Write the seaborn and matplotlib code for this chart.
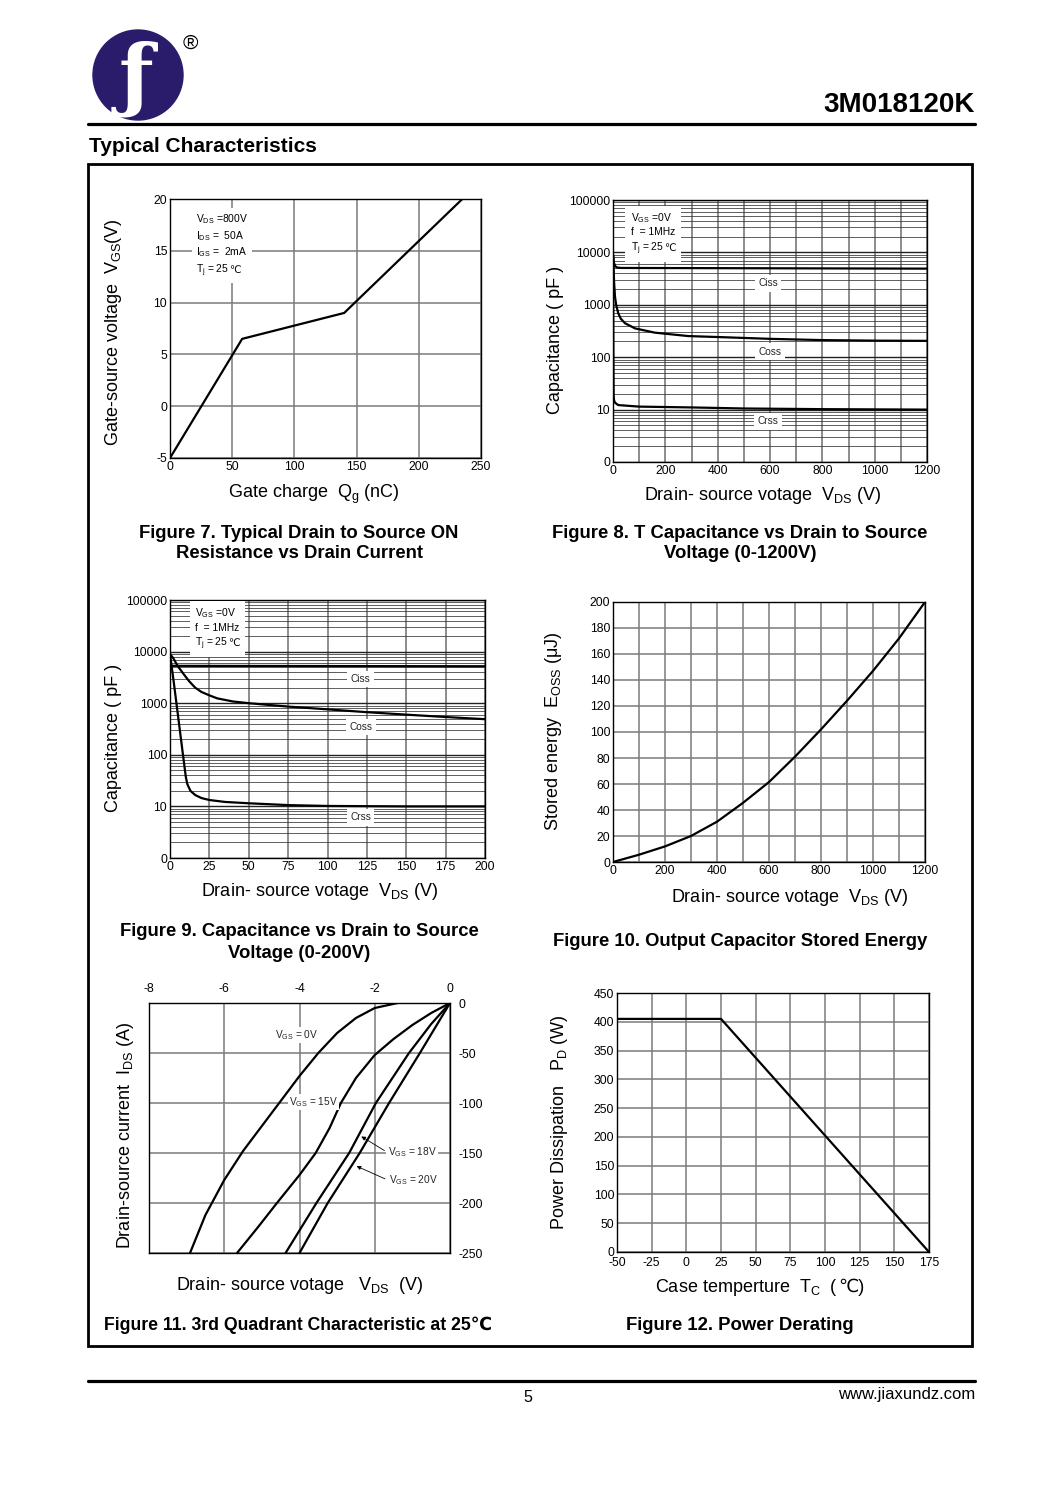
import numpy as np
import pandas as pd
import matplotlib
matplotlib.use("Agg")
import matplotlib.pyplot as plt
import seaborn as sns
from matplotlib.patches import Circle, Rectangle
from matplotlib.ticker import LogLocator, NullFormatter, MultipleLocator, FixedLocator
from matplotlib.offsetbox import TextArea, HPacker, VPacker, AnnotationBbox

# ---------------- data ----------------
# Fig 7: gate charge
qg_nc = [0, 58, 140, 235]
vgs_v = [-5, 6.5, 9.0, 20]

# Fig 8: capacitance 0-1200 V
ciss8_v = [0, 3, 8, 15, 30, 1200]
ciss8_pf = [9000, 6500, 5500, 5150, 5050, 4900]
coss8_v = [0, 2, 4, 7.6, 12, 20, 30, 46, 84, 160, 288, 428, 600, 800, 1000, 1200]
coss8_pf = [9000, 6000, 2800, 1430, 1000, 690, 540, 445, 355, 294, 253, 240, 224, 212, 207, 205]
crss8_v = [0, 0.8, 1.6, 2.5, 4, 8, 20, 100, 300, 500, 800, 1200]
crss8_pf = [9000, 1200, 80, 18, 15, 13.5, 12.2, 11.4, 11, 10.5, 10.2, 10]

# Fig 9: capacitance 0-200 V
ciss9_v = [0, 200]
ciss9_pf = [5300, 5200]
coss9_v = [0, 2, 5, 8, 12, 16, 20, 25, 30, 40, 50, 75, 100, 125, 150, 175, 200]
coss9_pf = [9000, 7500, 5200, 3900, 2700, 2000, 1650, 1420, 1240, 1080, 1000, 860, 760, 670, 600, 540, 490]
crss9_v = [0, 2.5, 5, 7.5, 10, 11, 13, 16, 20, 25, 35, 50, 75, 100, 150, 200]
crss9_pf = [9000, 2400, 600, 150, 38, 27, 20, 16.6, 14.5, 13.3, 12.2, 11.5, 10.6, 10.2, 10, 10]

# Fig 10: stored energy
vds10_v = [0, 100, 200, 300, 400, 500, 600, 700, 800, 900, 1000, 1100, 1200]
eoss_uj = [0, 5.6, 12, 20, 31, 45.5, 61.5, 81, 102, 124, 147, 172, 200]

# Fig 11: 3rd quadrant
vgs0_v = [-1.39, -2.0, -2.5, -3.0, -3.5, -4.0, -4.5, -5.0, -5.5, -6.0, -6.5, -6.91]
vgs0_a = [0, -5, -15, -30, -50, -73, -98, -123, -148, -177, -212, -250]
vgs15_v = [0, -0.5, -1.0, -1.5, -2.0, -2.5, -2.9, -3.2, -3.57, -4.0, -4.6, -5.1, -5.66]
vgs15_a = [0, -10, -22, -36, -52, -75, -100, -125, -150, -172, -200, -224, -250]
vgs18_v = [0, -0.5, -1.09, -1.97, -2.68, -3.55, -4.37]
vgs18_a = [0, -21, -50, -100, -150, -200, -250]
vgs20_v = [0, -0.8, -1.62, -2.4, -3.25, -4.0]
vgs20_a = [0, -50, -100, -150, -200, -250]

# Fig 12: power derating
tc_c = [-50, 25, 175]
pd_w = [405, 405, 0]

cap_ticks = [1, 10, 100, 1000, 10000, 100000]
cap_labels = ["0", "10", "100", "1000", "10000", "100000"]

# ---------------- style ----------------
sns.set_theme(style="white")
plt.rcParams["font.family"] = ["Liberation Sans", "DejaVu Sans"]
plt.rcParams["mathtext.fontset"] = "custom"
plt.rcParams["mathtext.rm"] = "Liberation Sans"
plt.rcParams["mathtext.it"] = "Liberation Sans:italic"
plt.rcParams["mathtext.bf"] = "Liberation Sans:bold"
plt.rcParams["axes.unicode_minus"] = False

W, H = 1050, 1488
fig = plt.figure(figsize=(W / 100, H / 100), dpi=100)
fig.patch.set_facecolor("white")

bg = fig.add_axes([0, 0, 1, 1])
bg.set_xlim(0, W)
bg.set_ylim(H, 0)
bg.axis("off")
bg.set_zorder(-5)


def T(x, y, s, **kw):
    kw.setdefault("ha", "center")
    kw.setdefault("va", "center")
    kw.setdefault("color", "black")
    return bg.text(x, y, s, **kw)


def rich_lines(lines, size, sep=2.5):
    rows = []
    for parts in lines:
        rows.append(HPacker(children=[TextArea(p, textprops=dict(fontsize=size, color="black"))
                                      for p in parts], align="baseline", pad=0, sep=0))
    if len(rows) == 1:
        return rows[0]
    return VPacker(children=rows, align="left", pad=0, sep=sep)


def place(ax, box, xy, align, frame=False, pad=0.3):
    ab = AnnotationBbox(box, xy, xycoords="data", box_alignment=align, frameon=frame,
                        pad=pad, bboxprops=dict(fc="white", ec="none"), zorder=6)
    ax.add_artist(ab)
    return ab


def mkax(l, t, r, b):
    ax = fig.add_axes([l / W, 1 - b / H, (r - l) / W, (b - t) / H])
    for sp in ax.spines.values():
        sp.set_color("black")
        sp.set_linewidth(1.0)
    ax.tick_params(length=0, pad=2, labelsize=8.7, colors="black")
    return ax


def line(ax, x, y, lw=1.6):
    df = pd.DataFrame({"x": x, "y": y})
    sns.lineplot(data=df, x="x", y="y", ax=ax, color="black", lw=lw,
                 estimator=None, sort=False, zorder=4)
    ax.set_xlabel("")
    ax.set_ylabel("")


GRID = dict(color="#7a7a7a", lw=1.1)
CAP = 13.3

# ---------------- header / frame ----------------
bg.add_patch(Circle((138, 75), 45, color="#2b1b6b", zorder=1))
T(136, 80, "ƒ", fontsize=58, color="white", family="DejaVu Serif", weight="bold", zorder=2)
T(190, 43, "®", fontsize=15)
T(975, 105, "3M018120K", fontsize=20, weight="bold", ha="right")
bg.plot([88, 975], [124, 124], color="black", lw=2.3)
T(89, 146, "Typical Characteristics", fontsize=15, weight="bold", ha="left")
bg.add_patch(Rectangle((88, 164), 884, 1182, fill=False, ec="black", lw=2.0))
bg.plot([88, 975], [1381, 1381], color="black", lw=2.3)
T(528, 1398, "5", fontsize=11.5)
T(975, 1394, "www.jiaxundz.com", fontsize=12, ha="right")

# ---------------- Fig 7 ----------------
ax = mkax(170, 199, 481, 458)
ax.set_xlim(0, 250)
ax.set_ylim(-5, 20)
ax.set_xticks(range(0, 251, 50))
ax.set_yticks(range(-5, 21, 5))
ax.grid(True, **GRID)
line(ax, qg_nc, vgs_v)
box = rich_lines([["V$_\\mathrm{DS}$ =800V"], ["I$_\\mathrm{DS}$ =  50A"],
                  ["I$_\\mathrm{GS}$ =  2mA"], ["T$_\\mathrm{j}$ = 25", "℃"]], 7.4, sep=2.2)
place(ax, box, (21, 18.75), (0, 1), frame=True, pad=0.25)
T(314, 494, "Gate charge  Q$_\\mathrm{g}$ (nC)", fontsize=13)
T(113, 332, "Gate-source voltage  V$_\\mathrm{GS}$(V)", fontsize=13, rotation=90)
T(299, 533, "Figure 7. Typical Drain to Source ON", fontsize=CAP, weight="bold")
T(299, 554, "Resistance vs Drain Current", fontsize=CAP, weight="bold")


def capax(ax, xmax, xgrid, xlab):
    ax.set_yscale("log")
    ax.set_ylim(1, 100000)
    ax.set_xlim(0, xmax)
    ax.yaxis.set_major_locator(FixedLocator(cap_ticks))
    ax.set_yticklabels(cap_labels)
    ax.yaxis.set_minor_locator(LogLocator(base=10, subs=range(2, 10)))
    ax.yaxis.set_minor_formatter(NullFormatter())
    ax.tick_params(which="minor", length=0)
    ax.set_xticks(xlab)
    ax.xaxis.set_minor_locator(MultipleLocator(xgrid))
    ax.grid(True, which="major", axis="y", color="#222222", lw=1.0)
    ax.grid(True, which="minor", axis="y", color="#333333", lw=0.55)
    ax.grid(True, which="both", axis="x", color="#6e6e6e", lw=1.1)


def tag(ax, x, y, s):
    ax.text(x, y, s, fontsize=7.3, ha="center", va="center", zorder=5,
            bbox=dict(fc="white", ec="none", pad=2.5))


def capnote():
    return rich_lines([["V$_\\mathrm{GS}$ =0V"], ["f  = 1MHz"], ["T$_\\mathrm{j}$ = 25", "℃"]],
                      7.4, sep=2.0)


# ---------------- Fig 8 ----------------
ax = mkax(613, 200, 927, 462)
capax(ax, 1200, 100, range(0, 1201, 200))
line(ax, ciss8_v, ciss8_pf)
line(ax, coss8_v, coss8_pf)
line(ax, crss8_v, crss8_pf)
tag(ax, 592, 2600, "Ciss")
tag(ax, 600, 126, "Coss")
tag(ax, 592, 6, "Crss")
place(ax, capnote(), (68, 62000), (0, 1), frame=True, pad=0.35)
T(763, 496, "Drain- source votage  V$_\\mathrm{DS}$ (V)", fontsize=13)
T(555, 340, "Capacitance ( pF )", fontsize=13, rotation=90)
T(740, 533, "Figure 8. T Capacitance vs Drain to Source", fontsize=CAP, weight="bold")
T(740, 554, "Voltage (0-1200V)", fontsize=CAP, weight="bold")

# ---------------- Fig 9 ----------------
ax = mkax(170, 600, 485, 858)
capax(ax, 200, 25, range(0, 201, 25))
line(ax, ciss9_v, ciss9_pf)
line(ax, coss9_v, coss9_pf)
line(ax, crss9_v, crss9_pf)
tag(ax, 121, 2950, "Ciss")
tag(ax, 121, 345, "Coss")
tag(ax, 121, 6.2, "Crss")
place(ax, capnote(), (16, 76000), (0, 1), frame=True, pad=0.35)
T(320, 892, "Drain- source votage  V$_\\mathrm{DS}$ (V)", fontsize=13)
T(113, 738, "Capacitance ( pF )", fontsize=13, rotation=90)
T(299, 931, "Figure 9. Capacitance vs Drain to Source", fontsize=CAP, weight="bold")
T(299, 953, "Voltage (0-200V)", fontsize=CAP, weight="bold")

# ---------------- Fig 10 ----------------
ax = mkax(613, 602, 925, 862)
ax.set_xlim(0, 1200)
ax.set_ylim(0, 200)
ax.set_xticks(range(0, 1201, 200))
ax.xaxis.set_minor_locator(MultipleLocator(100))
ax.set_yticks(range(0, 201, 20))
ax.grid(True, which="both", **GRID)
line(ax, vds10_v, eoss_uj)
T(790, 897, "Drain- source votage  V$_\\mathrm{DS}$ (V)", fontsize=13)
T(553, 731, "Stored energy  E$_\\mathrm{OSS}$ (μJ)", fontsize=13, rotation=90)
T(740, 942, "Figure 10. Output Capacitor Stored Energy", fontsize=CAP, weight="bold")

# ---------------- Fig 11 ----------------
ax = mkax(149, 1003, 450, 1253)
ax.set_xlim(-8, 0)
ax.set_ylim(-250, 0)
ax.xaxis.tick_top()
ax.yaxis.tick_right()
ax.set_xticks([-8, -6, -4, -2, 0])
ax.set_yticks([0, -50, -100, -150, -200, -250])
ax.tick_params(length=0, pad=6, labelsize=8.7)
ax.grid(True, **GRID)
line(ax, vgs0_v, vgs0_a)
line(ax, vgs15_v, vgs15_a)
line(ax, vgs18_v, vgs18_a)
line(ax, vgs20_v, vgs20_a)
ax.text(-4.08, -32, "V$_\\mathrm{GS}$ = 0V", fontsize=7.3, ha="center", va="center",
        zorder=5, bbox=dict(fc="white", ec="none", pad=1))
ax.text(-3.63, -99, "V$_\\mathrm{GS}$ = 15V", fontsize=7.3, ha="center", va="center",
        zorder=5, bbox=dict(fc="white", ec="none", pad=1))
ax.text(-1.65, -149, "V$_\\mathrm{GS}$ = 18V", fontsize=7.3, ha="left", va="center",
        zorder=5, bbox=dict(fc="white", ec="none", pad=1))
ax.text(-1.63, -177, "V$_\\mathrm{GS}$ = 20V", fontsize=7.3, ha="left", va="center",
        zorder=5, bbox=dict(fc="white", ec="none", pad=1))
ax.annotate("", xy=(-2.42, -132), xytext=(-1.68, -149),
            arrowprops=dict(arrowstyle="-|>", lw=0.6, color="black", mutation_scale=6))
ax.annotate("", xy=(-2.55, -162), xytext=(-1.66, -177),
            arrowprops=dict(arrowstyle="-|>", lw=0.6, color="black", mutation_scale=6))
T(300, 1286, "Drain- source votage   V$_\\mathrm{DS}$  (V)", fontsize=13)
T(125, 1135, "Drain-source current  I$_\\mathrm{DS}$ (A)", fontsize=13, rotation=90)
T(298, 1325, "Figure 11. 3rd Quadrant Characteristic at 25℃", fontsize=12.7, weight="bold")

# ---------------- Fig 12 ----------------
ax = mkax(617, 993, 929, 1252)
ax.set_xlim(-50, 175)
ax.set_ylim(0, 450)
ax.set_xticks(range(-50, 176, 25))
ax.set_yticks(range(0, 451, 50))
ax.tick_params(axis="x", pad=3.5)
ax.grid(True, **GRID)
line(ax, tc_c, pd_w)
lab12 = rich_lines([["Case temperture  T$_\\mathrm{C}$  (", "℃)"]], 13)
place(bg, lab12, (760, 1287), (0.5, 0.5), frame=False, pad=0)
T(560, 1122, "Power Dissipation   P$_\\mathrm{D}$ (W)", fontsize=13, rotation=90)
T(740, 1325, "Figure 12. Power Derating", fontsize=CAP, weight="bold")

fig.savefig("out.png", dpi=100, facecolor="white")
